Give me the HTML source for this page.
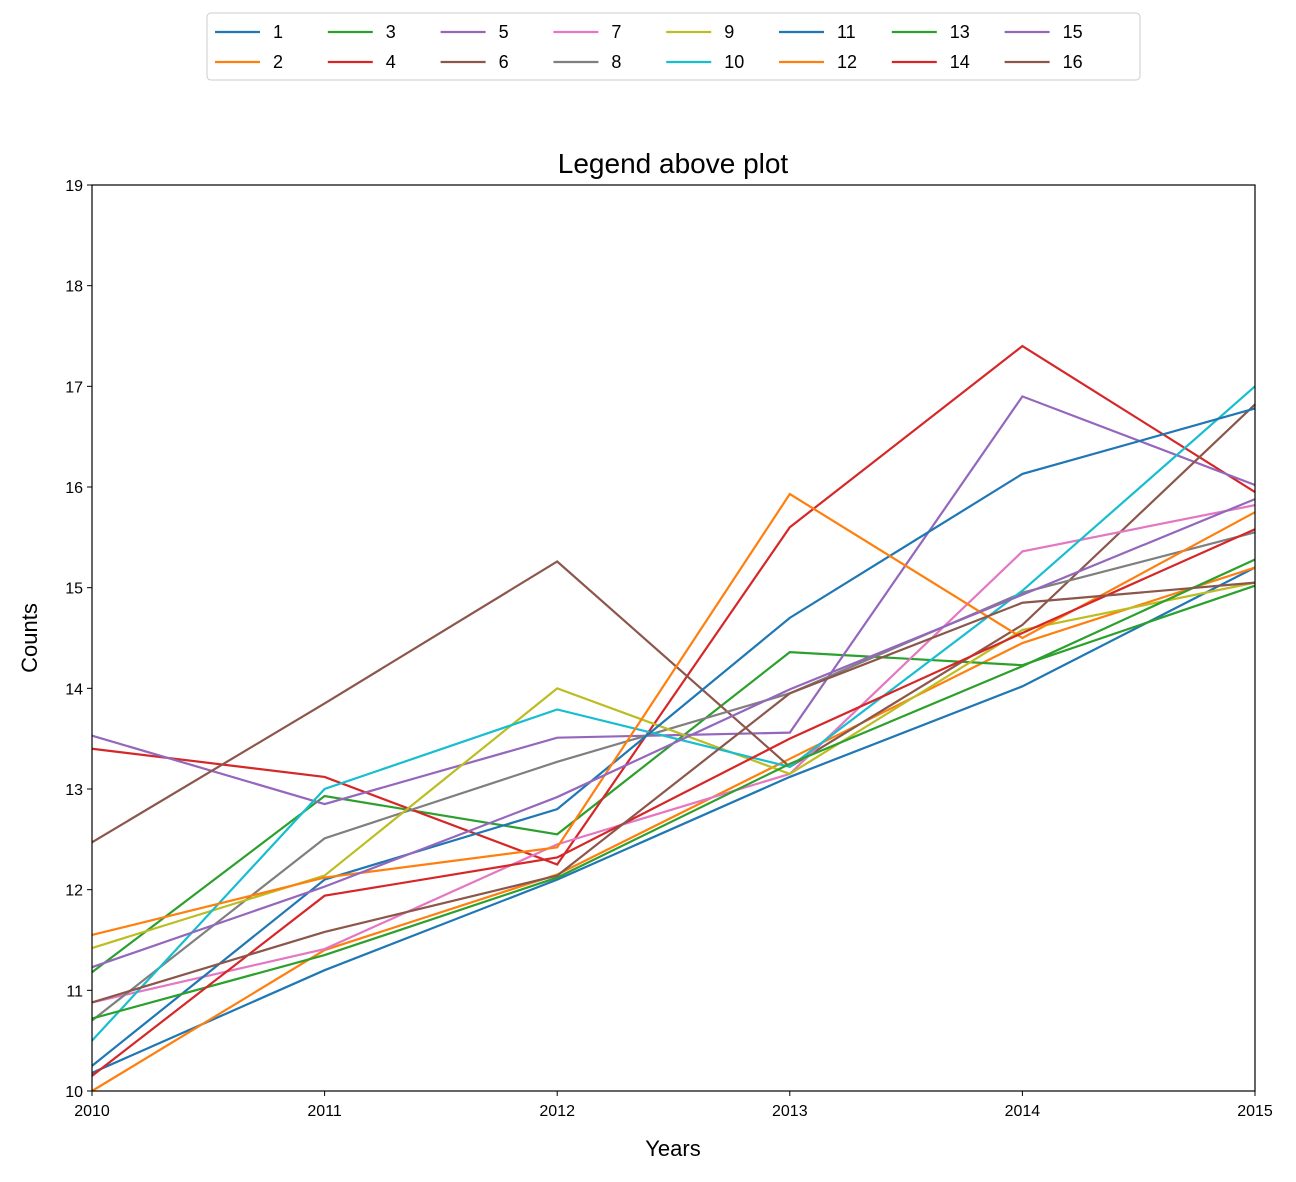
<!DOCTYPE html>
<html><head><meta charset="utf-8"><style>
body{margin:0;background:#fff}
svg text{font-family:"Liberation Sans","DejaVu Sans",sans-serif}
</style></head><body>
<svg id="chart" width="1296" height="1177" xmlns="http://www.w3.org/2000/svg">
<rect width="1296" height="1177" fill="#fff"/>
<text x="673" y="173" font-size="28" text-anchor="middle">Legend above plot</text>
<text x="673" y="1156" font-size="22" text-anchor="middle">Years</text>
<text x="37" y="638" font-size="22" text-anchor="middle" transform="rotate(-90 37 638)">Counts</text>
<g id="grid"></g><g id="lines"></g>
<rect x="92" y="185" width="1163" height="906" fill="none" stroke="#000" stroke-width="1.2"/>
<g id="legend"></g>
</svg>
<script>
const years=[2010,2011,2012,2013,2014,2015];
const yTicks=[10,11,12,13,14,15,16,17,18,19];
const seriesNames=['1','2','3','4','5','6','7','8','9','10','11','12','13','14','15','16'];
const colors=['#1f77b4','#ff7f0e','#2ca02c','#d62728','#9467bd','#8c564b','#e377c2','#7f7f7f','#bcbd22','#17becf'];
const s1=[10.18,11.2,12.1,13.12,14.02,15.2];
const s2=[10.0,11.4,12.15,13.3,14.45,15.2];
const s3=[11.18,12.93,12.55,14.36,14.23,15.02];
const s4=[13.4,13.12,12.25,15.6,17.4,15.95];
const s5=[13.53,12.85,13.51,13.56,16.9,16.02];
const s6=[12.47,13.85,15.26,13.22,14.63,16.82];
const s7=[10.88,11.41,12.45,13.15,15.36,15.82];
const s8=[10.7,12.51,13.27,13.95,14.95,15.55];
const s9=[11.42,12.14,14.0,13.15,14.58,15.05];
const s10=[10.5,13.0,13.79,13.22,14.97,17.0];
const s11=[10.25,12.1,12.8,14.7,16.13,16.78];
const s12=[11.55,12.12,12.42,15.93,14.5,15.75];
const s13=[10.72,11.35,12.12,13.25,14.22,15.28];
const s14=[10.15,11.94,12.32,13.5,14.55,15.58];
const s15=[11.23,12.03,12.92,13.99,14.93,15.88];
const s16=[10.88,11.58,12.14,13.95,14.85,15.05];
const allSeries=[s1,s2,s3,s4,s5,s6,s7,s8,s9,s10,s11,s12,s13,s14,s15,s16];
const NS='http://www.w3.org/2000/svg';
const X0=92,X1=1255,Y0=1091,Y1=185;
const xs=v=>X0+(v-2010)/(2015-2010)*(X1-X0);
const ys=v=>Y0-(v-10)/(19-10)*(Y0-Y1);
function mk(t,a,p){const e=document.createElementNS(NS,t);for(const k in a)e.setAttribute(k,a[k]);p.appendChild(e);return e;}
const grid=document.getElementById('grid');
years.forEach(yr=>{
 const x=xs(yr);
 const t=mk('line',{x1:x,x2:x,y1:Y0,y2:Y0+5,stroke:'#000'},grid);
 
 
 const l=mk('text',{x:x,y:Y0+25,'font-size':16,'text-anchor':'middle'},grid);
 l.textContent=yr;
 
 
});
yTicks.forEach(v=>{
 const y=ys(v);
 const t=mk('line',{x1:X0-5,x2:X0,y1:y,y2:y,stroke:'#000'},grid);
 
 
 const l=mk('text',{x:X0-9,y:y+6,'font-size':16,'text-anchor':'end'},grid);
 l.textContent=v;
 
 
});
const lines=document.getElementById('lines');
allSeries.forEach((s,i)=>{
 const p=mk('polyline',{points:s.map((v,j)=>xs(years[j])+','+ys(v)).join(' '),fill:'none',stroke:colors[i%10],'stroke-width':2.2},lines);
 
 
});
const lg=document.getElementById('legend');
const box=mk('rect',{x:207,y:13,width:933,height:67,rx:4,fill:'#fff',stroke:'#ccc'},lg);


seriesNames.forEach((n,i)=>{
 const col=Math.floor(i/2),row=i%2;
 const x=215+col*112.8,y=32+row*30;
 const g=mk('g',{},lg);
 
 
 mk('line',{x1:x,x2:x+45,y1:y,y2:y,stroke:colors[i%10],'stroke-width':2.2},g);
 const t=mk('text',{x:x+58,y:y+6,'font-size':18},g);
 t.textContent=n;
});
</script>
</body></html>
